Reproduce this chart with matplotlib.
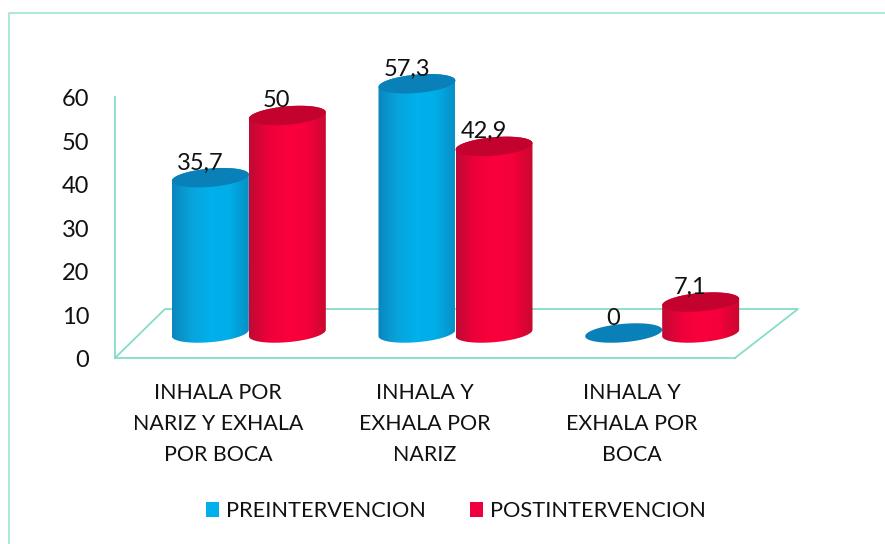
import numpy as np
import matplotlib
matplotlib.use('Agg')
import matplotlib.pyplot as plt
from matplotlib.colors import LinearSegmentedColormap
from matplotlib.lines import Line2D
from matplotlib.patches import PathPatch, Patch, Polygon
from matplotlib.path import Path
from matplotlib.transforms import IdentityTransform, ScaledTranslation

categories = ['INHALA POR\nNARIZ Y EXHALA\nPOR BOCA', 'INHALA Y\nEXHALA POR\nNARIZ', 'INHALA Y\nEXHALA POR\nBOCA']
series_names = ['PREINTERVENCION', 'POSTINTERVENCION']
pre_values = [35.7, 57.3, 0]
post_values = [50, 42.9, 7.1]
value_labels_pre = ['35,7', '57,3', '0']
value_labels_post = ['50', '42,9', '7,1']
y_ticks = [0, 10, 20, 30, 40, 50, 60]

LINE = '#86DCCB'
BLUE_RAMP = ['#0A86BC', '#08A4DC', '#00B0EC', '#00AEE8', '#0890C6']
RED_RAMP = ['#C00A34', '#EE0038', '#FA003C', '#F4003A', '#C8082F']
BLUE_TOP = '#0A80B8'
RED_TOP = '#C4022E'

plt.rcParams['font.family'] = ['Lato', 'DejaVu Sans']

W, H = 885, 544
fig = plt.figure(figsize=(W / 100, H / 100), dpi=100)
# only the top and left edges of the frame are inside the picture
fig.add_artist(Line2D([9, 9, W], [0, H - 13, H - 13], transform=IdentityTransform(), color='#A6E6D8', lw=1.3))

ax = fig.add_axes([115 / W, (H - 358) / H, 620 / W, 261 / H])
ax.set_xlim(0, 3)
ax.set_ylim(0, 60)
ax.patch.set_alpha(0)
for side in ['top', 'right']:
    ax.spines[side].set_visible(False)
for side in ['left', 'bottom']:
    ax.spines[side].set_color(LINE)
    ax.spines[side].set_linewidth(1.3)

ax.set_yticks(y_ticks)
ax.set_xticks([0.5, 1.5, 2.5])
ax.set_xticklabels(categories, fontsize=15.4, linespacing=1.71, color='#111111')
ax.tick_params(axis='x', length=0, pad=17.8)
ax.tick_params(axis='y', length=0, pad=18.5, labelsize=17, labelcolor='#111111')
down = ScaledTranslation(0, -0.5 / 72, fig.dpi_scale_trans)
for lab in ax.get_yticklabels():
    lab.set_transform(lab.get_transform() + down)

# floor of the 3d box, in axis units
px = 3 / 620
py = 60 / 261
back_y = 49 * py
ax.plot([0, 50 * px, 3 + 63 * px, 3], [0, back_y, back_y, 0], color=LINE, lw=1.3,
        clip_on=False, zorder=1)

BASE = 25 * py          # cylinders stand in the middle of the floor
WIDTH = 38.5 * px       # half width
SEMI = 9.2 * py
TILT = 3.2 * py
OFFSETS = [-8 * px, 69 * px]


def rim(cx, y, a, b):
    tt = np.radians(np.linspace(a, b, 80))
    return np.column_stack([cx + WIDTH * np.cos(tt), y + SEMI * np.sin(tt) + TILT * np.cos(tt)])


def cylinder(cx, value, ramp, top_color, z):
    top = BASE + value
    if value > 0:
        outline = np.vstack([rim(cx, BASE, 180, 360), rim(cx, top, 0, 180)])
        clip = PathPatch(Path(outline, closed=False), transform=ax.transData, fill=False, edgecolor='none')
        ax.add_patch(clip)
        cmap = LinearSegmentedColormap.from_list('shade', ramp)
        im = ax.imshow(np.linspace(0, 1, 128).reshape(1, -1), cmap=cmap, aspect='auto', zorder=z,
                       extent=(cx - WIDTH, cx + WIDTH, BASE - 2 * SEMI, top + 2 * SEMI))
        im.set_clip_box(fig.bbox)
        im.set_clip_path(clip)
    ax.add_patch(Polygon(rim(cx, top, 0, 360), closed=True, facecolor=top_color, edgecolor='none',
                         clip_on=False, zorder=z + 0.1))


for i in range(len(categories)):
    cylinder(i + 0.5 + OFFSETS[0], pre_values[i], BLUE_RAMP, BLUE_TOP, 2 + i)
    cylinder(i + 0.5 + OFFSETS[1], post_values[i], RED_RAMP, RED_TOP, 2.5 + i)

ax.set_xlim(0, 3)
ax.set_ylim(0, 60)

for i in range(len(categories)):
    for off, vals, labs in [(OFFSETS[0], pre_values, value_labels_pre), (OFFSETS[1], post_values, value_labels_post)]:
        ax.annotate(labs[i], (i + 0.5 + off, BASE + vals[i]), xytext=(-7.5, 10.5), textcoords='offset points',
                    ha='center', va='center', fontsize=17, color='#111111', zorder=10, annotation_clip=False)

handles = [Patch(facecolor='#00B0EC', edgecolor='none'), Patch(facecolor='#EE0040', edgecolor='none')]
fig.legend(handles, series_names, loc='center', bbox_to_anchor=(456 / W, (H - 511) / H), ncol=2, frameon=False,
           fontsize=15.7, handlelength=0.6, handleheight=0.7, handletextpad=0.32, columnspacing=2.05,
           labelcolor='#111111')

fig.savefig('out.png', dpi=100, facecolor='white')
